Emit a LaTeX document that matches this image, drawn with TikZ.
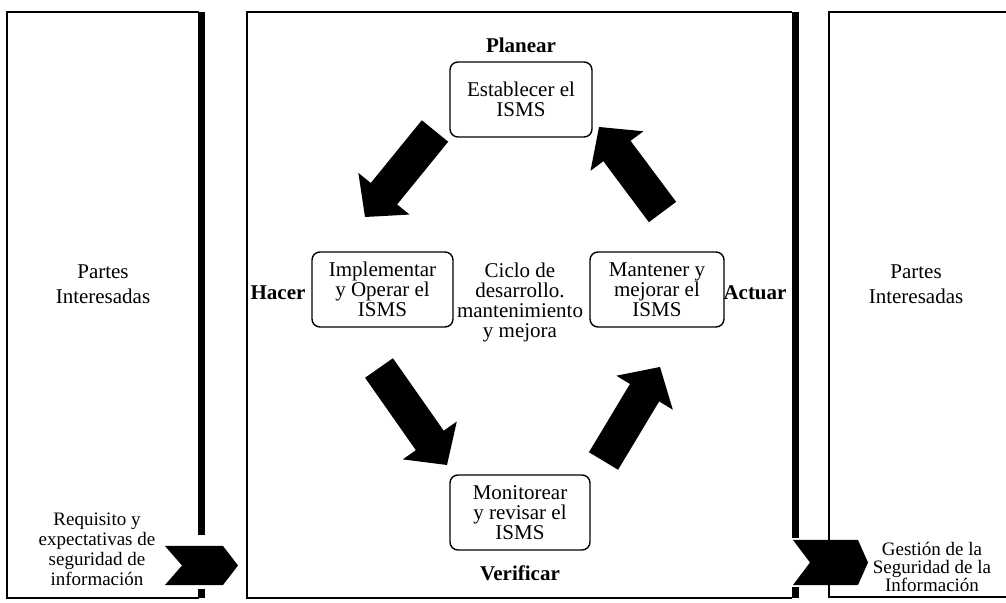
\documentclass[tikz,border=0pt]{standalone}
\usepackage{fontspec}
\setmainfont{Liberation Serif}
\usetikzlibrary{calc}

\tikzset{
  frame/.style={line width=0.7pt},
  bar/.style={line width=3.5pt},
  stage/.style={draw, line width=0.7pt, rounded corners=4pt,
    minimum width=#1, minimum height=37.5pt, align=center, inner sep=1pt,
    font=\fontsize{10.5}{10}\selectfont},
  phase/.style={font=\fontsize{10.5}{12}\selectfont\bfseries},
  plain/.style={align=center, font=\fontsize{10.5}{12.5}\selectfont},
  small/.style={align=center, font=\fontsize{9.5}{10}\selectfont},
}

% thick block arrow: name, tail centre, tip
\newcommand\fatarrow[3]{%
  \coordinate (#1-h) at ($(#3)!15pt!(#2)$);
  \fill ($(#2)!8.5pt!90:(#3)$) -- ($(#1-h)!8.5pt!90:(#3)$)
    -- ($(#1-h)!16.5pt!90:(#3)$) -- (#3)
    -- ($(#1-h)!16.5pt!-90:(#3)$) -- ($(#1-h)!8.5pt!-90:(#3)$)
    -- ($(#2)!8.5pt!-90:(#3)$) -- cycle;
}

\begin{document}
\begin{tikzpicture}[x=0.5pt, y=-0.5pt]
\useasboundingbox (0,0) rectangle (1006,603);

% frames
\draw[frame] (199,12) -- (7,12) -- (7,598) -- (199,598);
\draw[frame] (792,12) -- (247,12) -- (247,598) -- (792,598);
\draw[frame] (1006,12) -- (829,12) -- (829,597) -- (1006,597);

% heavy separators
\draw[bar] (201.5,12) -- (201.5,535);
\draw[bar] (201.5,589) -- (201.5,598);
\draw[bar] (795,12) -- (795,538);
\draw[bar] (795,587) -- (795,598);

% input / output chevrons
\fill (165,546) -- (223,546) -- (238,565.5) -- (223,585) -- (165,585) -- (182,565.5) -- cycle;
\fill (793,540) -- (858,540) -- (868,562.5) -- (858,585) -- (793,585) -- (810,562.5) -- cycle;

% side texts
\node[plain] (pl) at (103,284.5) {Partes\\Interesadas};
\node[plain] (pr) at (916,284.5) {Partes\\Interesadas};
\node[small] (req) at (97,549) {Requisito y\\expectativas de\\seguridad de\\información};
\node[small, font=\fontsize{9.5}{9}\selectfont] (ges) at (932,567) {Gestión de la\\Seguridad de la\\Información};

% PDCA cycle
\node[phase] (planear) at (521,45) {Planear};
\node[stage=71pt] (est) at (521,99.5) {Establecer el\\ISMS};
\node[stage=70.5pt] (imp) at (382.5,289.5) {Implementar\\y Operar el\\ISMS};
\node[stage=67pt] (man) at (657,289.5) {Mantener y\\mejorar el\\ISMS};
\node[stage=70pt] (mon) at (520,512.5) {Monitorear\\y revisar el\\ISMS};
\node[phase] (hacer) at (278,293) {Hacer};
\node[phase] (actuar) at (755,293) {Actuar};
\node[phase] (verificar) at (520,573) {Verificar};
\node[align=center, font=\fontsize{10.5}{10}\selectfont] (ciclo) at (520,302)
  {Ciclo de\\desarrollo.\\mantenimiento\\y mejora};

% cycle arrows
\coordinate (a1t) at (435,131);   \coordinate (a1p) at (365,217);
\coordinate (a2t) at (379,368);   \coordinate (a2p) at (447,465);
\coordinate (a3t) at (603.5,461); \coordinate (a3p) at (660,367);
\coordinate (a4t) at (662.5,212); \coordinate (a4p) at (599,127);
\fatarrow{a1}{a1t}{a1p}
\fatarrow{a2}{a2t}{a2p}
\fatarrow{a3}{a3t}{a3p}
\fatarrow{a4}{a4t}{a4p}
\end{tikzpicture}
\end{document}
